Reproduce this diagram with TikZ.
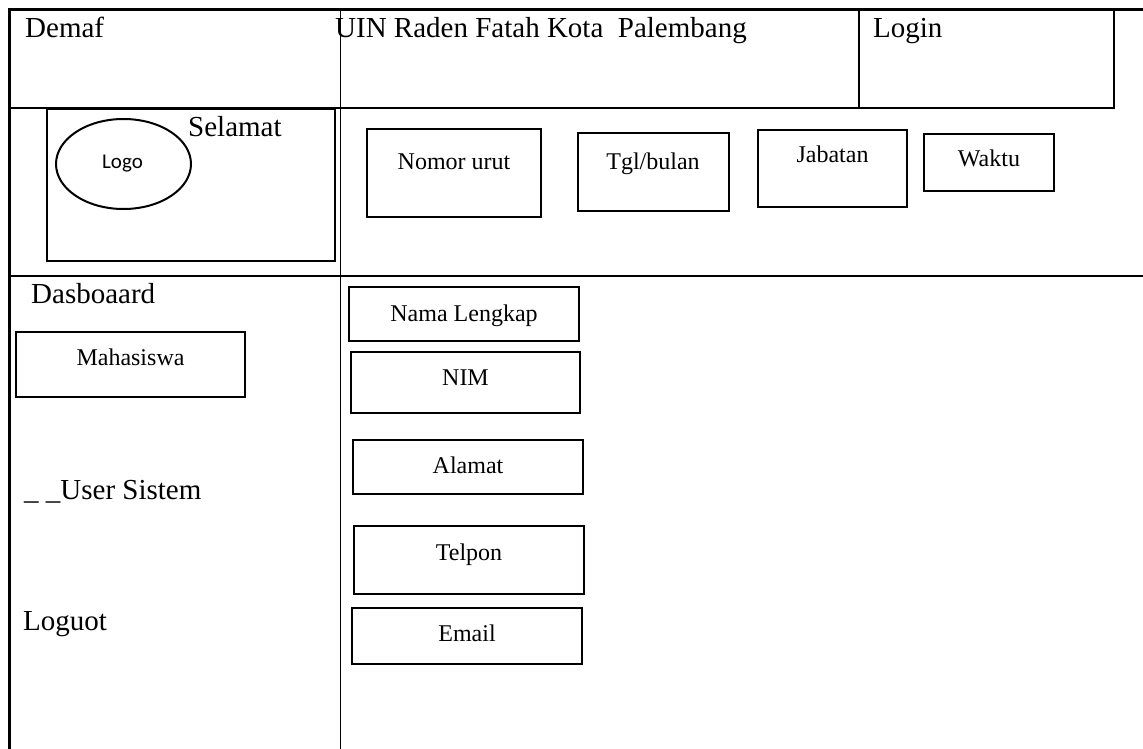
\documentclass[tikz,border=0pt]{standalone}
\usepackage{fontspec}
\setmainfont{Liberation Serif}
\newfontfamily\logofont{Carlito}
\def\ftop{\fontsize{29}{29}\selectfont}
\def\fsmall{\fontsize{24}{24}\selectfont}

\begin{document}
\begin{tikzpicture}[x=1pt,y=-1pt,
    txt/.style={inner sep=0pt,anchor=base west,font=\ftop},
    lbl/.style={inner sep=0pt,anchor=base,font=\fsmall},
    field/.style={line width=2.5pt}]
  \useasboundingbox (0,0) rectangle (1143,749);
  % frame
  \draw[line width=3pt] (1143,10) -- (9,10) -- (9,749);
  \draw[line width=2.5pt] (9,108) -- (1114,108) -- (1114,10);
  \draw[line width=2pt] (859,10) -- (859,108);
  \draw[line width=1pt] (340,10) -- (340,749);
  \draw[line width=2pt] (9,276) -- (1143,276);
  % header
  \node[txt] (demaf) at (25,38) {Demaf};
  \node[txt] (uin) at (335,38) {UIN Raden Fatah Kota\ \ Palembang};
  \node[txt] (login) at (873,38) {Login};
  % welcome
  \draw[line width=2.5pt] (47,109) rectangle (335,261);
  \draw[line width=2pt] (123.5,164) ellipse [x radius=67.5pt, y radius=45pt];
  \node[inner sep=0pt,anchor=base,font=\logofont\fontsize{21}{21}\selectfont] (logo) at (122.5,168) {Logo};
  \node[txt] (selamat) at (188,136) {Selamat};
  % top fields
  \draw[field] (367,129) rectangle (541,217);
  \node[lbl] (nomor) at (454,169) {Nomor urut};
  \draw[field] (578,133) rectangle (729,211);
  \node[lbl] (tgl) at (653,169) {Tgl/bulan};
  \draw[field] (758,130) rectangle (907,207);
  \node[lbl] (jabatan) at (832.5,163) {Jabatan};
  \draw[field] (924,134) rectangle (1054,191);
  \node[lbl] (waktu) at (989,167) {Waktu};
  % menu
  \node[txt] (dasbor) at (31,303) {Dasboaard};
  \draw[field] (16,332) rectangle (245,397);
  \node[lbl] (mhs) at (130.5,365) {Mahasiswa};
  \node[txt] (user) at (24,499) {\_ \_User Sistem};
  \node[txt] (logout) at (23,630) {Loguot};
  % form fields
  \draw[field] (349,287) rectangle (579,341);
  \node[lbl] (nama) at (464,321) {Nama Lengkap};
  \draw[field] (351,352) rectangle (580,413);
  \node[lbl] (nim) at (465.5,385) {NIM};
  \draw[field] (353,440) rectangle (583,494);
  \node[lbl] (alamat) at (468,473) {Alamat};
  \draw[field] (354,526) rectangle (584,594);
  \node[lbl] (telpon) at (469,560) {Telpon};
  \draw[field] (352,608) rectangle (582,664);
  \node[lbl] (email) at (467,641) {Email};
\end{tikzpicture}
\end{document}
